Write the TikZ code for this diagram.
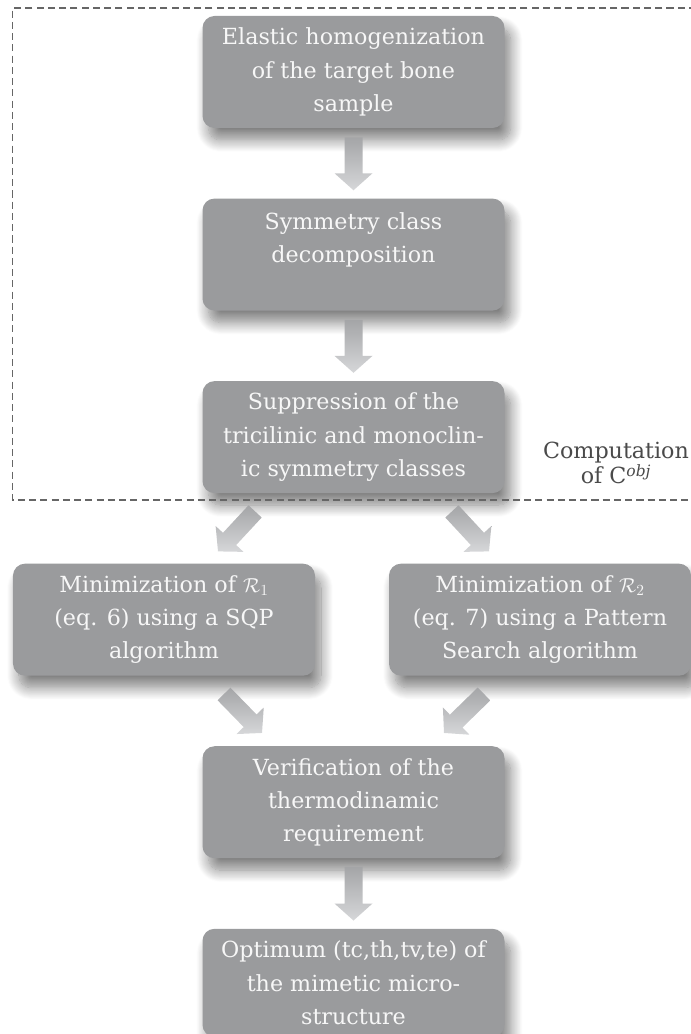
\documentclass[tikz,border=0pt]{standalone}
\usepackage{fontspec}
\setmainfont{DejaVu Serif}
\usetikzlibrary{positioning,calc,shadows.blur}

\definecolor{boxgray}{HTML}{9A9B9D}
\definecolor{boxtext}{HTML}{F7F7F7}
\definecolor{arrowtop}{HTML}{A4A5A7}
\definecolor{arrowbot}{HTML}{D6D7D9}
\definecolor{dashgray}{HTML}{666666}
\definecolor{labeltext}{HTML}{4A4A4A}

\tikzset{
  stepbox/.style={rectangle, rounded corners=0.3cm, fill=boxgray, text=boxtext,
    minimum width=7.55cm, minimum height=2.8cm, inner sep=0pt, align=center,
    font=\fontsize{15.8}{23.6}\selectfont,
    blur shadow={shadow xshift=0.15cm, shadow yshift=-0.3cm,
      shadow blur radius=0.3cm, shadow blur steps=14, shadow opacity=50}},
  arrowshade/.style={top color=arrowtop, bottom color=arrowbot},
  bigarrow/.style={to path={
    ($(\tikztostart)!0.225cm!90:(\tikztotarget)$)
    -- ($(\tikztotarget)!0.425cm!(\tikztostart)!0.225cm!-90:(\tikztostart)$)
    -- ($(\tikztotarget)!0.425cm!(\tikztostart)!0.475cm!-90:(\tikztostart)$)
    -- (\tikztotarget)
    -- ($(\tikztotarget)!0.425cm!(\tikztostart)!0.475cm!90:(\tikztostart)$)
    -- ($(\tikztotarget)!0.425cm!(\tikztostart)!0.225cm!90:(\tikztostart)$)
    -- ($(\tikztostart)!0.225cm!-90:(\tikztotarget)$)
    -- cycle}},
}

\begin{document}
\begin{tikzpicture}[x=1cm, y=1cm, node distance=1.75cm]
      \useasboundingbox (0,0) rectangle (17.275,25.85);
      %
      \node[stepbox] (homog) at (8.8375,24.05) {Elastic homogenization\\of the target bone\\sample};
      \node[stepbox, below=of homog] (symdec) {Symmetry class\\decomposition\\~};
      \node[stepbox, below=of symdec] (suppr) {Suppression of the\\tricilinic and monoclin-\\ic symmetry classes};
      %
      \node[stepbox, below=of suppr, xshift=-4.7375cm] (minl) {Minimization of $\mathcal{R}_1$\\(eq. 6) using a SQP\\algorithm};
      \node[stepbox, below=of suppr, xshift=4.6625cm] (minr) {Minimization of $\mathcal{R}_2$\\(eq. 7) using a Pattern\\Search algorithm};
      %
      \node[stepbox, anchor=north] (verif) at ($(minl.south -| suppr)+(0,-1.75)$) {Verification of the\\thermodinamic\\requirement};
      \node[stepbox, below=of verif, minimum height=2.7cm] (optim) {Optimum (tc,th,tv,te) of\\the mimetic micro-\\structure};
      %
      \node[font=\fontsize{15.8}{16.2}\selectfont, text=labeltext, align=center] (complabel)
        at (15.4,14.275) {Computation\\of C\textsuperscript{\itshape obj}};
      %
      \draw[dashgray, line width=0.8pt, dash pattern=on 5pt off 3pt]
        (17.4,25.65) -- (0.3125,25.65) -- (0.3125,13.35) -- (17.4,13.35); % frame
      %
      \shade[arrowshade] ($(homog.south)+(0,-0.225)$) to[bigarrow] ($(symdec.north)+(0,0.2)$);
      \shade[arrowshade] ($(symdec.south)+(0,-0.225)$) to[bigarrow] ($(suppr.north)+(0,0.2)$);
      %
      \shade[arrowshade] ($(suppr.south)+(-2.46,-0.45)$) to[bigarrow] ($(minl.north)+(1.35,0.3)$);
      \shade[arrowshade] ($(suppr.south)+(2.46,-0.45)$) to[bigarrow] ($(minr.north)+(-1.275,0.3)$);
      %
      \shade[arrowshade] ($(minl.south)+(1.5,-0.45)$) to[bigarrow] ($(verif.north)+(-2.2875,0.325)$);
      \shade[arrowshade] ($(minr.south)+(-1.4,-0.45)$) to[bigarrow] ($(verif.north)+(2.2625,0.325)$);
      %
      \shade[arrowshade] ($(verif.south)+(0,-0.2)$) to[bigarrow] ($(optim.north)+(0,0.2)$);
      %
    \end{tikzpicture}
\end{document}
